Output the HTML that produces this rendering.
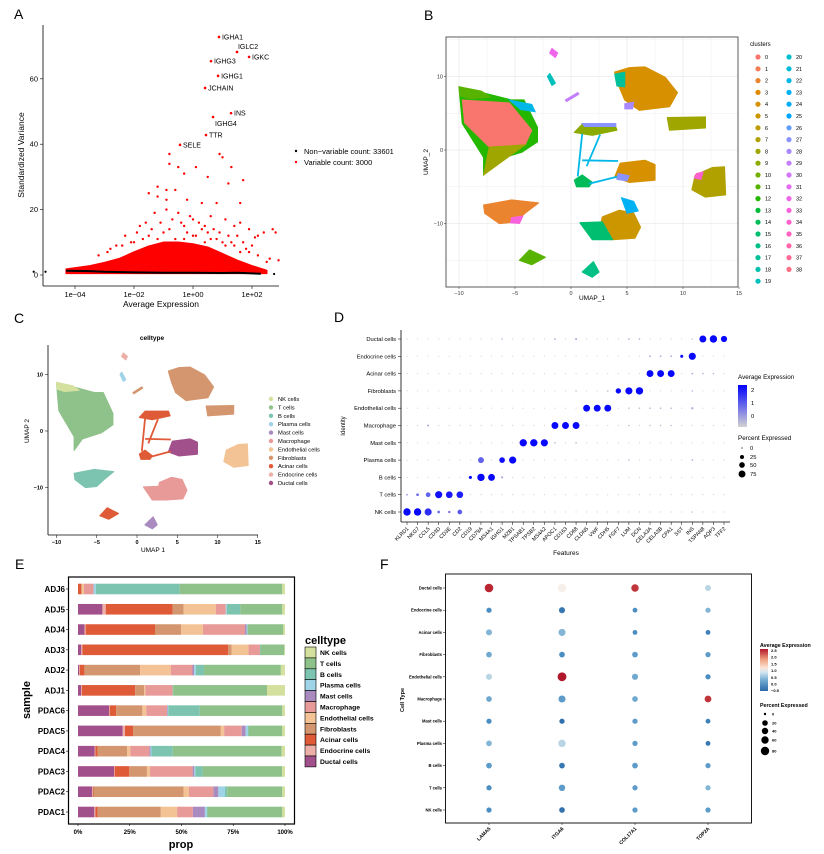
<!DOCTYPE html>
<html><head><meta charset="utf-8"><style>
html,body{margin:0;padding:0;background:#fff;}
svg{display:block;font-family:"Liberation Sans",Arial,sans-serif;}
</style></head><body>
<svg id="fig" width="824" height="854" viewBox="0 0 824 854" xmlns="http://www.w3.org/2000/svg">
<defs>
<linearGradient id="gradD" x1="0" y1="1" x2="0" y2="0"><stop offset="0" stop-color="#d3d3d3"/><stop offset="1" stop-color="#0000ff"/></linearGradient>
<linearGradient id="gradF" x1="0" y1="1" x2="0" y2="0"><stop offset="0" stop-color="#2c6aa8"/><stop offset="0.25" stop-color="#6fa8d0"/><stop offset="0.45" stop-color="#d6e7f1"/><stop offset="0.55" stop-color="#fbe5d8"/><stop offset="0.75" stop-color="#f0a07f"/><stop offset="1" stop-color="#b2182b"/></linearGradient>
</defs>
<rect x="0" y="0" width="824" height="854" fill="#fff"/>
</svg>
<script>
// ===== Panel A data =====
const aGenes=['IGHA1','IGLC2','IGKC','IGHG3','IGHG1','JCHAIN','INS','IGHG4','TTR','SELE'];
const aGeneLogX=[0.88,1.49,1.9,0.61,0.85,0.41,1.29,0.68,0.44,-0.44];
const aGeneVar=[72.8,68.2,66.7,65.4,60.9,57.2,49.5,48.3,42.8,39.8];
const aSparseLogX=[-0.8,-0.8,-0.5,-0.3,0.1,0.5,1.3,1.7,-1.5,-1.2,-0.9,-0.6,-0.2,0.3,0.8,1.6,1.2,1.0,0.9,-1.2,-1.6,-1.3,-0.9,-0.5,0,0.6,1.1,1.4,1.6,1.9,2.2,2.4,2.7,2.8,2.1,2.0,1.8,2.5,1.5,-0.3,0.3,-1.9,-2.3,-2.6,2.9,1.3,
 -1.8,-1.4,-1.1,-0.7,-0.4,-0.1,0.2,0.4,0.7,0.9,1.2,-1.7,-1.0,-0.8,-0.2,0.1,0.5,0.8,1.0,1.4,-2.1,-1.5,-0.6,0.0,0.6,1.7,-2.8,-2.4,-2.0,-1.2,-0.3,0.4,1.1,1.9,-3.2,-2.9,2.2,2.6,1.6,-0.9];
const aSparseVar=[37,34,33,31,33,30,33,29,25,27,26,26,23,22,22,22,28,36,37,24,16,19,20,19,17,18,17,15,16,14,12,13,14,13,11.5,9,8,4,12,15,14,13,12,9,4.5,10,
 15,14,16,17,16,18,16,15,14,13,12,11,13,14,13,12,13,11,10,9,10,12,11,12,11,10,8,9,10,11,11,10,9,7,6,7,6,5,7,23];
const aDenseLogX=[-4.3,-3.5,-3,-2.5,-2,-1.5,-1,-0.5,0,0.5,1,1.5,2,2.5,2.5,-4.3];
const aDenseVar=[1.8,2.8,3.8,5,7,8.8,10,10,9.5,8.5,6.5,4.5,2.8,1.4,0.5,0.5];
const aBlackLogX=[-4.3,-3.5,-3,-2,-1,0,1,1.5,2,2.3];
const aBlackVar=[1.3,1.2,1,0.8,0.7,0.7,0.6,0.7,0.5,0.4];
const aXTicks=[-4,-2,0,2];
const aXTickLabels=['1e\u221204','1e\u221202','1e+00','1e+02'];
const aYTicks=[0,20,40,60];

// ===== UMAP data (shared B & C) =====
const umapNames=['tcell-main','nk-tip','b-blob','acinar-small','mast-small','fibro-top','fibro-right','endo-right','acinar-upper','acinar-lower','ductal-mid','macro-bottom','macro-ext','plasma-small','top-speck','streak'];
const umapPolys=[
 [[-10,8.6],[-5.3,6.8],[-4.2,6.8],[-3,3.1],[-3,1.1],[-4.4,-0.3],[-6.8,-1.4],[-7.8,-3.4],[-7.8,-1],[-9.7,3.6]],
 [[-10,8.6],[-8,8],[-7.2,7.2],[-9,7],[-9.9,7.4]],
 [[-7.8,-7.5],[-5.3,-6.8],[-2.9,-7.2],[-4.1,-8.6],[-5,-9.8],[-6.4,-10],[-7.7,-8.6]],
 [[-4.6,-15],[-3.7,-13.6],[-2.3,-14.6],[-3.5,-15.6]],
 [[1,-16.6],[2,-15.2],[2.5,-16.6],[1.9,-17.3]],
 [[3.9,10.6],[5.2,11.2],[6.6,11.3],[8.4,9.9],[9.5,7.8],[8.8,5.9],[6.1,5.4],[4.8,6.8],[4.3,8.6]],
 [[8.6,4.4],[12,4.5],[12,3],[8.8,2.7]],
 [[11.1,-3.4],[12.6,-2.4],[13.7,-2.3],[13.8,-6.1],[12,-6.4],[10.8,-5.4]],
 [[0.3,2.4],[1,3.5],[3.9,3.5],[4.1,2.7],[1.9,2]],
 [[0.3,-4.1],[1,-3.4],[1.9,-4.4],[1.6,-5],[0.5,-5]],
 [[4.4,-1.8],[6.6,-1.4],[7.5,-2],[7.5,-4.1],[5.2,-4.4],[3.9,-3.7]],
 [[2.8,-9.1],[4.3,-8.2],[5.6,-8.6],[6.2,-10.5],[5.7,-12],[3.7,-12.2],[2.6,-10.5]],
 [[0.8,-9.9],[2.8,-9.8],[3.7,-12.2],[1.9,-12.2]],
 [[-1.9,10.4],[-1.4,9.1],[-1.7,8.8],[-2.1,10]],
 [[-1.7,13.8],[-1.2,13.2],[-1.4,12.6],[-1.9,13.2]],
 [[-0.5,6.8],[0.6,7.8],[0.7,7.6],[-0.4,6.6]]
];
const umapCluster=[12,11,2,11,16,4,8,7,9,14,4,5,15,19,32,29];
const umapCellType=['T cells','NK cells','B cells','Acinar cells','Mast cells','Fibroblasts','Fibroblasts','Endothelial cells','Acinar cells','Acinar cells','Ductal cells','Macrophage','Macrophage','Plasma cells','Endocrine cells','Fibroblasts'];
const umapInnerPolys=[
 [[-9.7,6.8],[-5.5,6.4],[-3.5,2.7],[-4.1,0.7],[-7.3,0.4],[-9.5,3.7]],
 [[-7.3,0.4],[-4.1,0.7],[-7.8,-3.4]],
 [[-5.5,6.8],[-3.5,6.2],[-3.2,5.2],[-4.5,5.5]],
 [[1,3.6],[4,3.6],[4,3.2],[1.2,3.2]],
 [[4.2,-3.2],[5.2,-3.5],[5,-4.2],[4.1,-4]],
 [[4.5,-6.5],[5.6,-7],[6,-8.3],[5,-8.6]],
 [[-5.3,-9.2],[-4.3,-9],[-4.6,-10],[-5.4,-9.9]],
 [[11.2,-3.2],[11.8,-3],[11.6,-4],[11,-3.8]],
 [[4.8,6.3],[5.6,6.5],[5.5,5.6],[4.8,5.6]],
 [[3.9,10.3],[4.8,10.6],[4.8,8.6],[4.1,8.7]]
];
const umapInnerCluster=[0,8,22,27,27,23,33,34,28,17];
const umapLinks=[[[1,2.2],[0.6,-3.6]],[[1,-1.4],[4.2,-1.5]],[[1.6,-4.6],[4.2,-3.6]],[[2.6,2.1],[1.4,-2.2]]];

const cTypes=['NK cells','T cells','B cells','Plasma cells','Mast cells','Macrophage','Endothelial cells','Fibroblasts','Acinar cells','Endocrine cells','Ductal cells'];
const cColors=['#d4e19e','#8fc18a','#7dc4b0','#9fd3e8','#a98bc0','#e89a98','#f3c395','#d4966e','#df5a36','#edb0a8','#a2508c'];

// ===== Panel D data =====
const dFeatures=['KLRD1','NKG7','CCL5','CD3D','CD3E','CD2','CD19','CD79A','MS4A1','IGHG1','MZB1','TPSAB1','TPSB2','MS4A2','APOC1','CD163','CD68','CLDN5','VWF','CDH5','FGF7','LUM','DCN','CELA3A','CELA3B','CPA1','SST','INS','TSPAN8','AQP3','TFF2'];
const dIdents=['NK cells','T cells','B cells','Plasma cells','Mast cells','Macrophage','Endothelial cells','Fibroblasts','Acinar cells','Endocrine cells','Ductal cells'];
const dPct=[
 [85,85,80,12,10,35,2,2,2,2,2,2,2,2,2,2,2,2,2,2,2,2,2,2,2,2,2,4,2,2,2],
 [5,12,35,80,70,70,2,2,2,2,2,2,2,2,2,2,2,2,2,2,2,2,2,2,2,2,2,2,2,2,2],
 [2,2,2,2,2,2,15,85,75,8,2,2,2,2,2,2,2,2,2,2,2,2,2,2,2,2,2,2,2,2,2],
 [2,2,2,2,2,2,2,55,2,50,80,2,2,2,2,2,2,2,2,2,2,4,2,2,2,2,2,4,2,2,2],
 [2,2,2,2,2,2,2,2,2,2,2,85,85,80,4,2,4,2,2,2,2,2,2,2,2,2,2,2,2,2,2],
 [2,2,6,2,2,2,2,2,2,2,2,2,2,2,75,75,75,2,2,2,2,4,2,4,4,4,2,2,2,2,2],
 [2,2,2,2,2,2,2,2,2,2,2,2,2,2,2,2,2,75,75,75,2,4,4,4,4,4,2,8,2,2,2],
 [2,2,2,2,2,2,2,2,2,2,2,2,2,2,2,2,4,2,2,4,45,80,85,2,2,2,2,4,2,2,2],
 [2,2,2,2,2,2,2,2,2,2,2,2,2,2,2,2,2,2,2,2,2,2,2,75,75,75,2,5,4,4,2],
 [2,2,2,2,2,2,2,2,2,2,2,2,2,2,2,2,2,2,2,2,2,2,2,5,5,5,15,80,2,2,2],
 [2,2,2,2,2,2,2,2,2,4,2,2,2,2,5,2,6,2,2,2,2,5,5,2,2,2,2,3,75,85,60]
];
const dAvg=[
 [2.2,2.2,1.7,0.8,0.6,1.1,-0.4,-0.4,-0.4,-0.4,-0.4,-0.4,-0.4,-0.4,-0.4,-0.4,-0.4,-0.4,-0.4,-0.4,-0.4,-0.4,-0.4,-0.3,-0.3,-0.3,-0.4,-0.3,-0.4,-0.4,-0.4],
 [0.2,0.8,1.0,2.1,2.0,1.9,-0.4,-0.4,-0.4,-0.4,-0.4,-0.4,-0.4,-0.4,-0.4,-0.4,-0.4,-0.4,-0.4,-0.4,-0.4,-0.4,-0.4,-0.4,-0.4,-0.4,-0.4,-0.4,-0.4,-0.4,-0.4],
 [-0.4,-0.4,-0.4,-0.4,-0.4,-0.4,2.2,2.2,2.2,0,-0.4,-0.4,-0.4,-0.4,-0.4,-0.4,-0.4,-0.4,-0.4,-0.4,-0.4,-0.4,-0.4,-0.4,-0.4,-0.4,-0.4,-0.4,-0.4,-0.4,-0.4],
 [-0.4,-0.4,-0.4,-0.4,-0.4,-0.4,-0.4,1.0,-0.4,2.1,2.2,-0.4,-0.4,-0.4,-0.4,-0.4,-0.4,-0.4,-0.4,-0.4,-0.4,-0.2,-0.4,-0.4,-0.4,-0.4,-0.4,0,-0.4,-0.4,-0.4],
 [-0.4,-0.4,-0.4,-0.4,-0.4,-0.4,-0.4,-0.4,-0.4,-0.4,-0.4,2.2,2.2,2.2,-0.1,-0.4,-0.1,-0.4,-0.4,-0.4,-0.4,-0.4,-0.4,-0.4,-0.4,-0.4,-0.4,-0.4,-0.4,-0.4,-0.4],
 [-0.4,-0.4,0.1,-0.4,-0.4,-0.4,-0.4,-0.4,-0.4,-0.4,-0.4,-0.4,-0.4,-0.4,2.2,2.2,2.2,-0.4,-0.4,-0.4,-0.4,-0.2,-0.4,-0.2,-0.2,-0.2,-0.4,-0.4,-0.4,-0.4,-0.4],
 [-0.4,-0.4,-0.4,-0.4,-0.4,-0.4,-0.4,-0.4,-0.4,-0.4,-0.4,-0.4,-0.4,-0.4,-0.4,-0.4,-0.4,2.2,2.2,2.2,-0.4,-0.2,-0.2,-0.1,-0.1,-0.1,-0.4,0,-0.4,-0.4,-0.4],
 [-0.4,-0.4,-0.4,-0.4,-0.4,-0.4,-0.4,-0.4,-0.4,-0.4,-0.4,-0.4,-0.4,-0.4,-0.4,-0.4,-0.2,-0.4,-0.4,-0.2,2.2,2.2,2.2,-0.4,-0.4,-0.4,-0.4,-0.1,-0.4,-0.4,-0.4],
 [-0.4,-0.4,-0.4,-0.4,-0.4,-0.4,-0.4,-0.4,-0.4,-0.4,-0.4,-0.4,-0.4,-0.4,-0.4,-0.4,-0.4,-0.4,-0.4,-0.4,-0.4,-0.4,-0.4,2.2,2.2,2.2,-0.4,0,-0.1,-0.1,-0.4],
 [-0.4,-0.4,-0.4,-0.4,-0.4,-0.4,-0.4,-0.4,-0.4,-0.4,-0.4,-0.4,-0.4,-0.4,-0.4,-0.4,-0.4,-0.4,-0.4,-0.4,-0.4,-0.4,-0.4,0,0,0,2.1,2.2,-0.4,-0.4,-0.4],
 [-0.4,-0.4,-0.4,-0.4,-0.4,-0.4,-0.4,-0.4,-0.4,-0.1,-0.4,-0.4,-0.4,-0.4,0,-0.4,0.1,-0.4,-0.4,-0.4,-0.4,-0.1,-0.1,-0.4,-0.4,-0.4,-0.4,-0.2,2.2,2.2,2.2]
];

// ===== Panel E data =====
const eSamples=['ADJ6','ADJ5','ADJ4','ADJ3','ADJ2','ADJ1','PDAC6','PDAC5','PDAC4','PDAC3','PDAC2','PDAC1'];
const eSegOrder=['Ductal cells','Endocrine cells','Acinar cells','Fibroblasts','Endothelial cells','Macrophage','Mast cells','Plasma cells','B cells','T cells','NK cells'];
const eProps=[
 [0,0,1.6,0.3,1,4.6,0,1.1,40.5,49.6,1.3],
 [11.8,1.6,32.3,5.3,15.6,4.8,0,0.5,6.5,20.3,1.3],
 [3.2,0.5,33.5,12.6,10.6,20.3,0.8,0.3,0.3,17.1,0.8],
 [1.6,0.5,70.5,1.6,8.2,5.5,0,0,0.3,11.5,0.3],
 [0.5,0.3,2.3,26.9,14.8,10.5,0.8,0.8,4,37.1,2],
 [1.5,0.3,25.8,4.4,0.6,13.1,0,0,0.3,45.3,8.7],
 [15,0.3,3.1,12.7,1.9,10,0.3,0.3,15.2,39.9,1.3],
 [21.6,1.1,3.9,42.4,1.6,8.5,1.9,1.1,0.3,16.3,1.3],
 [8.1,0.3,1,14.4,1.5,9.2,0.5,0.5,10.3,52.6,1.6],
 [17.4,0.3,7.1,8.5,1.5,20.6,0.8,0.5,3.5,38.4,1.4],
 [6.9,0.3,0.3,43.5,2.6,11.8,2.4,3.2,1.1,26.6,1.3],
 [7.9,0.5,1,30.6,7.9,7.6,5.8,1,0.3,36.1,1.3]
];
const eTicks=[0,25,50,75,100];

// ===== Panel F data =====
const fGenes=['LAMA5','ITGA6','COL17A1','TOP2A'];
const fIdents=['NK cells','T cells','B cells','Plasma cells','Mast cells','Macrophage','Endothelial cells','Fibroblasts','Acinar cells','Endocrine cells','Ductal cells'];
const fPct=[[30,35,30,30],[30,45,30,30],[35,35,35,30],[35,60,30,25],[30,30,30,25],[35,55,35,50],[40,85,40,30],[35,35,35,30],[40,55,25,25],[30,40,25,30],[80,80,60,40]];
const fAvg=[[0,-0.4,0.1,0.1],[0,0.1,0.1,0.3],[0.1,-0.3,0.1,0.1],[0.3,0.6,0.1,-0.3],[0,-0.4,0.1,-0.2],[0.2,0.1,0.2,2.3],[0.6,2.5,0.2,0],[0.2,0,0.1,0.1],[0.3,0.3,0,-0.2],[0,-0.3,0,0.3],[2.4,1.0,2.3,0.6]];

// ===== helpers =====
const NS='http://www.w3.org/2000/svg';
const svg=document.getElementById('fig');
function mk(tag,attrs,parent){const e=document.createElementNS(NS,tag);for(const k in attrs)e.setAttribute(k,attrs[k]);(parent||svg).appendChild(e);return e;}
function tx(x,y,s,size,extra,parent){const e=mk('text',Object.assign({x:x,y:y,'font-size':size,fill:'#000'},extra||{}),parent);e.textContent=s;return e;}
function grp(){return mk('g',{});}
function hcl(h,c,l){const hr=h*Math.PI/180,U=c*Math.cos(hr),V=c*Math.sin(hr);const Xn=95.047,Yn=100,Zn=108.883;const un=4*Xn/(Xn+15*Yn+3*Zn),vn=9*Yn/(Xn+15*Yn+3*Zn);const Y=l>8?Yn*Math.pow((l+16)/116,3):Yn*l/903.3;const u=U/(13*l)+un,v=V/(13*l)+vn;const X=Y*9*u/(4*v),Z=Y*(12-3*u-20*v)/(4*v);const x=X/100,y=Y/100,z=Z/100;let r=3.2406*x-1.5372*y-0.4986*z,g=-0.9689*x+1.8758*y+0.0415*z,b=0.0557*x-0.2040*y+1.0570*z;const gm=t=>{t=t<=0.0031308?12.92*t:1.055*Math.pow(t,1/2.4)-0.055;return Math.round(Math.max(0,Math.min(1,t))*255);};return 'rgb('+gm(r)+','+gm(g)+','+gm(b)+')';}
const clusterColors=[];for(let k=0;k<39;k++)clusterColors.push(hcl(15+k*360/39,100,65));
function lerpColor(a,b,t){t=Math.max(0,Math.min(1,t));const pa=a.match(/\w\w/g).map(h=>parseInt(h,16)),pb=b.match(/\w\w/g).map(h=>parseInt(h,16));return 'rgb('+pa.map((v,i)=>Math.round(v+(pb[i]-v)*t)).join(',')+')';}
function rdbu(v){const stops=[[-0.5,'2c6aa8'],[0,'4a8ec2'],[0.5,'a9cfe3'],[1.0,'f7efe9'],[1.5,'f4b094'],[2.0,'d6604d'],[2.5,'b2182b']];for(let i=0;i<stops.length-1;i++){if(v<=stops[i+1][0])return lerpColor(stops[i][1],stops[i+1][1],(v-stops[i][0])/(stops[i+1][0]-stops[i][0]));}return '#b2182b';}

// ===== Panel labels =====
const letters=[['A',14,19],['B',424,20],['C',14,323],['D',334,322],['E',15,569],['F',380,569]];
for(const L of letters){const e=tx(L[1],L[2],L[0],14);

}

// ===== Panel A =====
(function(){
const g=grp();


const ax=v=>193+v*29.5, ay=v=>275-v*3.27;
const yl=mk('line',{x1:43,y1:25,x2:43,y2:286,stroke:'#000','stroke-width':0.8},g);


const xl=mk('line',{x1:43,y1:286,x2:279,y2:286,stroke:'#000','stroke-width':0.8},g);


aXTicks.forEach((t,i)=>{mk('line',{x1:ax(t),y1:286,x2:ax(t),y2:289,stroke:'#000','stroke-width':0.6},g);
const e=tx(ax(t),297,aXTickLabels[i],7.5,{'text-anchor':'middle'},g);

});
aYTicks.forEach(t=>{mk('line',{x1:40,y1:ay(t),x2:43,y2:ay(t),stroke:'#000','stroke-width':0.6},g);
const e=tx(38,ay(t)+2.5,String(t),7.5,{'text-anchor':'end'},g);

});
const xt=tx(161,307,'Average Expression',8.5,{'text-anchor':'middle'},g);


const yt=tx(24,155,'Standardized Variance',8.5,{'text-anchor':'middle',transform:'rotate(-90 24 155)'},g);


const dp=aDenseLogX.map((v,i)=>ax(v)+','+ay(aDenseVar[i])).join(' ');
const dense=mk('polygon',{points:dp,fill:'#ff0000',stroke:'#ff0000','stroke-width':1.5,'stroke-linejoin':'round'},g);


aSparseLogX.forEach((v,i)=>{const c=mk('circle',{cx:ax(v),cy:ay(aSparseVar[i]),r:1.2,fill:'#ff0000'},g);

});
const bp=aBlackLogX.map((v,i)=>ax(v)+','+ay(aBlackVar[i])).join(' ');
const blk=mk('polyline',{points:bp,fill:'none',stroke:'#000','stroke-width':2},g);


[[-5.4,1],[-5,1],[2.75,0.3]].forEach(p=>{const c=mk('circle',{cx:ax(p[0]),cy:ay(p[1]),r:1.1,fill:'#000'},g);

});
aGenes.forEach((gn,i)=>{const x=ax(aGeneLogX[i]),y=ay(aGeneVar[i]);
const c=mk('circle',{cx:x,cy:y,r:1.3,fill:'#ff0000'},g);


let lx=x+3,ly=y+2.5;if(gn==='IGHG4'){lx=x+2;ly=y+9;}if(gn==='IGLC2'){lx=x+1;ly=y-3;}
const t=tx(lx,ly,gn,7,{},g);

});
const l1=mk('circle',{cx:296,cy:151,r:1.2,fill:'#000'},g);


const lt1=tx(304,154,'Non\u2212variable count: 33601',7.5,{},g);


const l2=mk('circle',{cx:296,cy:162,r:1.2,fill:'#ff0000'},g);


const lt2=tx(304,165,'Variable count: 3000',7.5,{},g);


})();

// ===== UMAP drawer =====
function drawUmap(g,sx,sy,colorFn,inner){
 umapPolys.forEach((poly,i)=>{const p=mk('polygon',{points:poly.map(q=>sx(q[0])+','+sy(q[1])).join(' '),fill:colorFn(i),stroke:colorFn(i),'stroke-width':1.2,'stroke-linejoin':'round'},g);
 
 });
 umapLinks.forEach(l=>{const p=mk('polyline',{points:l.map(q=>sx(q[0])+','+sy(q[1])).join(' '),fill:'none',stroke:inner?clusterColors[22]:cColors[8],'stroke-width':1.8},g);
 
 });
 if(inner){umapInnerPolys.forEach((poly,i)=>{const c=clusterColors[umapInnerCluster[i]];const p=mk('polygon',{points:poly.map(q=>sx(q[0])+','+sy(q[1])).join(' '),fill:c,stroke:c,'stroke-width':1},g);
 
 });}
}

// ===== Panel B =====
(function(){
const g=grp();


const sx=v=>571+v*11.2, sy=v=>150-v*7.35;
const L=446,R=738,T=37,B=287;
for(let v=-12.5;v<=15;v+=2.5){const x=sx(v);if(x<L||x>R)continue;mk('line',{x1:x,y1:T,x2:x,y2:B,stroke:'#ebebeb','stroke-width':v%5===0?0.8:0.4},g);}
for(let v=-15;v<=15;v+=5){const y=sy(v);if(y<T||y>B)continue;mk('line',{x1:L,y1:y,x2:R,y2:y,stroke:'#ebebeb','stroke-width':v%10===0?0.8:0.4},g);}
drawUmap(g,sx,sy,i=>clusterColors[umapCluster[i]],true);
const box=mk('rect',{x:L,y:T,width:R-L,height:B-T,fill:'none',stroke:'#333','stroke-width':0.8},g);


[-10,-5,0,5,10,15].forEach(v=>{mk('line',{x1:sx(v),y1:B,x2:sx(v),y2:B+2,stroke:'#333','stroke-width':0.5},g);
const e=tx(sx(v),B+8,v<0?'\u2212'+(-v):String(v),5.5,{'text-anchor':'middle',fill:'#333'},g);

});
[-10,0,10].forEach(v=>{mk('line',{x1:L-2,y1:sy(v),x2:L,y2:sy(v),stroke:'#333','stroke-width':0.5},g);
const e=tx(L-3,sy(v)+2,v<0?'\u2212'+(-v):String(v),5.5,{'text-anchor':'end',fill:'#333'},g);

});
const xt=tx(592,300,'UMAP_1',6.5,{'text-anchor':'middle'},g);


const yt=tx(428,162,'UMAP_2',6.5,{'text-anchor':'middle',transform:'rotate(-90 428 162)'},g);


const lt=tx(750,46,'clusters',6,{},g);


for(let k=0;k<39;k++){const col=k<20?0:1,row=k<20?k:k-20;const cx=758+col*31,cy=57+row*11.8;
const c=mk('circle',{cx:cx,cy:cy,r:2.6,fill:clusterColors[k]},g);


const t=tx(cx+7,cy+2,String(k),5.5,{},g);

}
})();

// ===== Panel C =====
(function(){
const g=grp();


const sx=v=>137+v*8.05, sy=v=>431-v*5.65;
drawUmap(g,sx,sy,i=>cColors[cTypes.indexOf(umapCellType[i])],false);
mk('line',{x1:48,y1:345,x2:48,y2:535,stroke:'#000','stroke-width':0.8},g);
mk('line',{x1:48,y1:535,x2:258,y2:535,stroke:'#000','stroke-width':0.8},g);
[-10,-5,0,5,10,15].forEach(v=>{mk('line',{x1:sx(v),y1:535,x2:sx(v),y2:538,stroke:'#000','stroke-width':0.5},g);
const e=tx(sx(v),544,v<0?'\u2212'+(-v):String(v),5.5,{'text-anchor':'middle','font-weight':'bold'},g);

});
[-10,0,10].forEach(v=>{mk('line',{x1:45,y1:sy(v),x2:48,y2:sy(v),stroke:'#000','stroke-width':0.5},g);
const e=tx(43,sy(v)+2,v<0?'\u2212'+(-v):String(v),5.5,{'text-anchor':'end','font-weight':'bold'},g);

});
const ti=tx(152,340,'celltype',6.5,{'text-anchor':'middle','font-weight':'bold'},g);


const xt=tx(153,552,'UMAP 1',6.5,{'text-anchor':'middle'},g);


const yt=tx(29,431,'UMAP 2',6.5,{'text-anchor':'middle',transform:'rotate(-90 29 431)'},g);


cTypes.forEach((t,i)=>{const y=399+i*8.4;
const c=mk('circle',{cx:271,cy:y,r:2.2,fill:cColors[i]},g);


const e=tx(278,y+2,t,5.8,{},g);

});
})();

// ===== Panel D =====
(function(){
const g=grp();


const fx=i=>407+i*(724-407)/30, fy=i=>512-i*(512-339)/10;
dIdents.forEach((id,r)=>{dFeatures.forEach((f,c)=>{const p=dPct[r][c],a=dAvg[r][c];
const e=mk('circle',{cx:fx(c),cy:fy(r),r:Math.max(0.55,0.4*Math.sqrt(p)),fill:lerpColor('d3d3d3','0000ff',(a+0.5)/2.8)},g);

});
const t=tx(396,fy(r)+2,id,5.8,{'text-anchor':'end'},g);


mk('line',{x1:398,y1:fy(r),x2:401,y2:fy(r),stroke:'#000','stroke-width':0.5},g);});
mk('line',{x1:401,y1:330,x2:401,y2:522,stroke:'#000','stroke-width':0.8},g);
mk('line',{x1:401,y1:522,x2:730,y2:522,stroke:'#000','stroke-width':0.8},g);
dFeatures.forEach((f,c)=>{mk('line',{x1:fx(c),y1:522,x2:fx(c),y2:525,stroke:'#000','stroke-width':0.5},g);
const t=tx(fx(c)+2,529,f,5.3,{'text-anchor':'end',transform:'rotate(-45 '+(fx(c)+2)+' 529)'},g);

});
const xt=tx(566,555,'Features',6.5,{'text-anchor':'middle'},g);


const yt=tx(345,426,'Identity',6,{'text-anchor':'middle',transform:'rotate(-90 345 426)'},g);


const l1=tx(738,379,'Average Expression',6.3,{},g);


const gb=mk('rect',{x:738,y:385,width:9,height:42,fill:'url(#gradD)'},g);


[['2',390],['1',403],['0',416]].forEach(t=>{const e=tx(751,t[1]+2,t[0],5.8,{},g);

});
const l2=tx(738,440,'Percent Expressed',6.3,{},g);


[[0,448],[25,457],[50,465],[75,474]].forEach(t=>{const c=mk('circle',{cx:742,cy:t[1],r:Math.max(0.6,0.4*Math.sqrt(t[0])),fill:'#000'},g);


const e=tx(750,t[1]+2,String(t[0]),5.8,{},g);

});
})();

// ===== Panel E =====
(function(){
const g=grp();


const px=v=>78+v*2.07, py=i=>589+i*(812-589)/11;
eSamples.forEach((s,i)=>{let acc=0;eSegOrder.forEach((ct,j)=>{const v=eProps[i][j];if(v>0){
const r=mk('rect',{x:px(acc),y:py(i)-5.3,width:px(acc+v)-px(acc),height:10.6,fill:cColors[cTypes.indexOf(ct)]},g);

}acc+=v;});
mk('line',{x1:66,y1:py(i),x2:68,y2:py(i),stroke:'#000','stroke-width':0.6},g);
const t=tx(65,py(i)+3,s,8,{'text-anchor':'end','font-weight':'bold'},g);

});
const box=mk('rect',{x:68.5,y:577,width:226,height:247,fill:'none',stroke:'#000','stroke-width':1.2},g);


eTicks.forEach(t=>{mk('line',{x1:px(t),y1:824,x2:px(t),y2:826,stroke:'#000','stroke-width':0.6},g);
const e=tx(px(t),834,t+'%',6,{'text-anchor':'middle','font-weight':'bold'},g);

});
const xt=tx(181,848,'prop',11,{'text-anchor':'middle','font-weight':'bold'},g);


const yt=tx(30,700,'sample',11,{'text-anchor':'middle','font-weight':'bold',transform:'rotate(-90 30 700)'},g);


const lt=tx(305,644,'celltype',11,{'font-weight':'bold'},g);


cTypes.forEach((c,i)=>{const y=647+i*10.9;
const r=mk('rect',{x:305,y:y,width:11,height:10.9,fill:cColors[i],stroke:'#000','stroke-width':0.6},g);


const t=tx(320,y+8,c,6.8,{'font-weight':'bold'},g);

});
})();

// ===== Panel F =====
(function(){
const g=grp();


const fx=i=>489+i*73, fy=i=>810-i*22.2;
fIdents.forEach((id,r)=>{fGenes.forEach((gn,c)=>{
const e=mk('circle',{cx:fx(c),cy:fy(r),r:0.48*Math.sqrt(fPct[r][c]),fill:rdbu(fAvg[r][c])},g);

});
mk('line',{x1:443,y1:fy(r),x2:445,y2:fy(r),stroke:'#000','stroke-width':0.5},g);
const t=tx(442,fy(r)+1.5,id,4.2,{'text-anchor':'end','font-weight':'bold'},g);

});
const box=mk('rect',{x:445.5,y:574,width:306,height:249,fill:'none',stroke:'#000','stroke-width':0.9},g);


fGenes.forEach((gn,c)=>{mk('line',{x1:fx(c),y1:823,x2:fx(c),y2:825,stroke:'#000','stroke-width':0.5},g);
const t=tx(fx(c)+2,829,gn,5,{'text-anchor':'end','font-weight':'bold',transform:'rotate(-45 '+(fx(c)+2)+' 829)'},g);

});
const yt=tx(404,700,'Cell Type',5.5,{'text-anchor':'middle','font-weight':'bold',transform:'rotate(-90 404 700)'},g);


const l1=tx(760,647,'Average Expression',5.3,{'font-weight':'bold'},g);


const gb=mk('rect',{x:760,y:649,width:8,height:42,fill:'url(#gradF)'},g);


['2.5','2.0','1.5','1.0','0.5','0.0','\u22120.5'].forEach((s,i)=>{const e=tx(771,652+i*6.7,s,4,{'font-weight':'bold'},g);

});
const l2=tx(760,707,'Percent Expressed',5.3,{'font-weight':'bold'},g);


[[0,714,1.2],[20,723,2.8],[40,731,3.2],[60,740,3.7],[80,751,4.2]].forEach(t=>{const c=mk('circle',{cx:765,cy:t[1],r:t[2],fill:'#000'},g);


const e=tx(772,t[1]+1.5,String(t[0]),4,{'font-weight':'bold'},g);

});
})();
</script>
</body></html>
